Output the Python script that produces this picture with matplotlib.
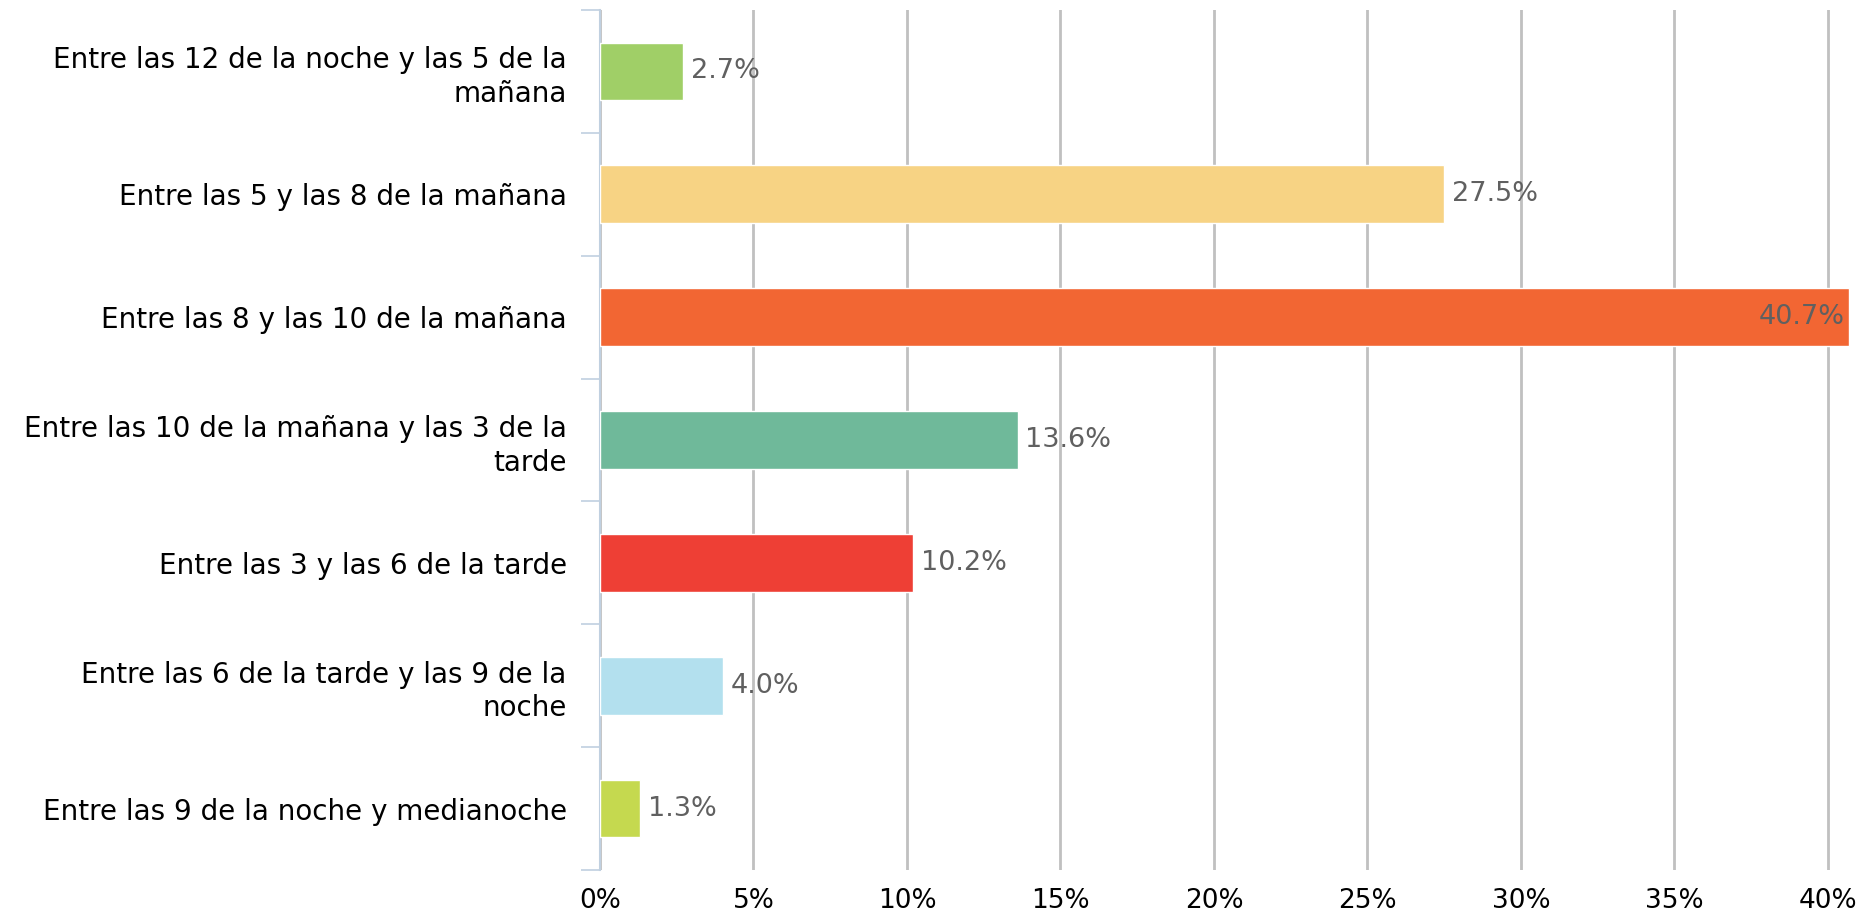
import matplotlib.pyplot as plt
import numpy as np

categories = ['Entre las 12 de la noche y las 5 de la\nmañana',
              'Entre las 5 y las 8 de la mañana',
              'Entre las 8 y las 10 de la mañana',
              'Entre las 10 de la mañana y las 3 de la\ntarde',
              'Entre las 3 y las 6 de la tarde',
              'Entre las 6 de la tarde y las 9 de la\nnoche',
              'Entre las 9 de la noche y medianoche']
values = [2.7, 27.5, 40.7, 13.6, 10.2, 4.0, 1.3]
colors = ['#a0cf67', '#f7d384', '#f26633', '#6fb99a', '#ee3f35', '#b3e0ee', '#c5d94f']
xticks = [0, 5, 10, 15, 20, 25, 30, 35, 40]

fig = plt.figure(figsize=(18.67, 9.16), dpi=100)
ax = fig.add_axes([600 / 1867, 46 / 916, 1251 / 1867, 860 / 916])

ypos = np.arange(len(categories))
ax.barh(ypos, values, height=0.47, color=colors, edgecolor='white', linewidth=1, zorder=3)

# data labels, the biggest one goes inside the bar
for y, v in zip(ypos, values):
    txt = '{:.1f}%'.format(v)
    if v > 40:
        ax.text(v - 0.15, y, txt, ha='right', va='center', fontsize=19.5, color='#606060', zorder=4)
    else:
        ax.text(v + 0.25, y, txt, ha='left', va='center', fontsize=19.5, color='#606060', zorder=4)

ax.set_xlim(0, 40.75)
ax.set_ylim(len(categories) - 0.5, -0.5)
ax.set_xticks(xticks)
ax.set_xticklabels([str(t) + '%' for t in xticks])
ax.set_yticks(ypos)
ax.set_yticklabels(categories, linespacing=1.25)
ax.set_yticks(np.arange(-0.5, len(categories), 1), minor=True)

ax.tick_params(axis='x', length=0, pad=13, labelsize=19, colors='black')
ax.tick_params(axis='y', which='major', length=0, pad=24, labelsize=20)
ax.tick_params(axis='y', which='minor', length=14, width=1.2, color='#c0d0e0')

for s in ['top', 'right', 'bottom']:
    ax.spines[s].set_visible(False)
ax.spines['left'].set_color('#c0d0e0')
ax.spines['left'].set_linewidth(1.5)

ax.grid(axis='x', color='#c0c0c0', linewidth=2, zorder=0)
ax.set_axisbelow(True)

plt.savefig('out.png', dpi=100)
